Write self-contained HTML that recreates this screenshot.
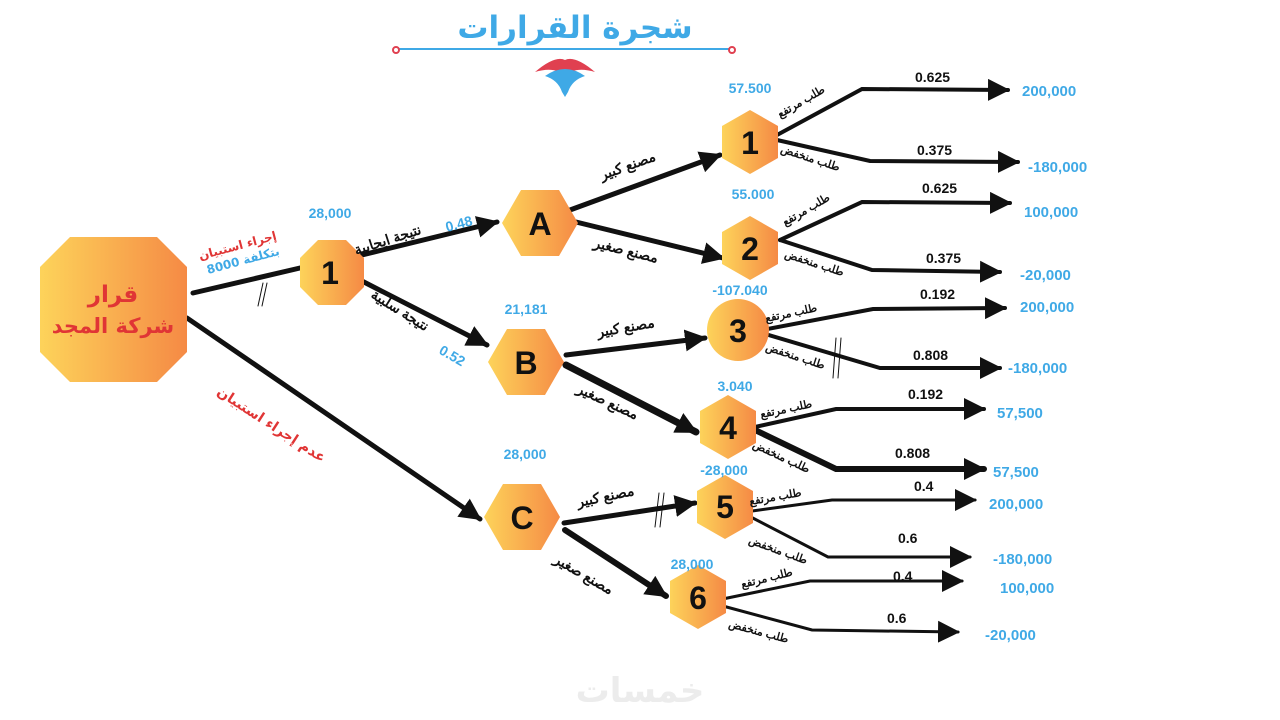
<!DOCTYPE html>
<html><head><meta charset="utf-8"><style>
html,body{margin:0;padding:0;background:#fff;}
svg{display:block;}
text{font-family:"Liberation Sans","Noto Sans CJK SC",sans-serif;}
.ar{font-family:"DejaVu Sans","Noto Sans CJK SC",sans-serif;}
.b{fill:#3fa9e6;font-weight:bold;font-size:14px;}
.k{fill:#111;font-weight:bold;font-size:14px;}
.n{fill:#111;font-weight:bold;font-size:32px;text-anchor:middle;dominant-baseline:central;}
</style></head><body>
<svg width="1280" height="720" viewBox="0 0 1280 720" xmlns="http://www.w3.org/2000/svg">
<defs>
<linearGradient id="g" x1="0" x2="1" y1="0" y2="0"><stop offset="0" stop-color="#fdd35a"/><stop offset="1" stop-color="#f58a45"/></linearGradient>
<marker id="m" markerUnits="userSpaceOnUse" markerWidth="24" markerHeight="22" refX="20" refY="11" orient="auto"><path d="M0,0 L22,11 L0,22 Z" fill="#111"/></marker>
</defs>
<text x="575" y="38" text-anchor="middle" class="ar" style="fill:#3fa9e6;font-weight:bold;font-size:31px">شجرة القرارات</text>
<line x1="398" y1="49" x2="730" y2="49" stroke="#3fa9e6" stroke-width="2"/>
<circle cx="396" cy="50" r="3" fill="none" stroke="#e04050" stroke-width="2"/>
<circle cx="732" cy="50" r="3" fill="none" stroke="#e04050" stroke-width="2"/>
<path d="M535,72 Q555,55 565,60 Q575,55 595,72 Q575,66 565,76 Q555,66 535,72Z" fill="#e04050"/>
<path d="M545,76 Q565,62 585,76 Q572,80 568,92 L565,97 L562,92 Q558,80 545,76Z" fill="#3fa9e6"/>
<g stroke="#111" fill="none" stroke-linecap="round">
<line x1="193" y1="293" x2="300" y2="268" stroke-width="5"/>
<line x1="187" y1="318" x2="480" y2="519" stroke-width="5" marker-end="url(#m)"/>
<line x1="362" y1="255" x2="497" y2="222" stroke-width="5" marker-end="url(#m)"/>
<line x1="360" y1="280" x2="487" y2="345" stroke-width="5" marker-end="url(#m)"/>
<line x1="570" y1="210" x2="720" y2="155" stroke-width="5" marker-end="url(#m)"/>
<line x1="576" y1="222" x2="723" y2="258" stroke-width="5" marker-end="url(#m)"/>
<line x1="566" y1="355" x2="705" y2="338" stroke-width="5" marker-end="url(#m)"/>
<line x1="566" y1="365" x2="696" y2="432" stroke-width="7" marker-end="url(#m)"/>
<line x1="564" y1="523" x2="695" y2="503" stroke-width="5" marker-end="url(#m)"/>
<line x1="565" y1="530" x2="666" y2="596" stroke-width="6" marker-end="url(#m)"/>
<g stroke-width="4">
<polyline points="777,135 862,89 1008,90" marker-end="url(#m)"/>
<polyline points="777,140 870,161 1018,162" marker-end="url(#m)"/>
<polyline points="780,240 862,202 1010,203" marker-end="url(#m)"/>
<polyline points="780,240 872,270 1000,272" marker-end="url(#m)"/>
<polyline points="762,330 873,309 1005,308" marker-end="url(#m)"/>
<polyline points="762,333 880,368 1000,368" marker-end="url(#m)"/>
<polyline points="755,427 836,409 984,409" marker-end="url(#m)"/>
<polyline points="755,430 836,469 984,469" stroke-width="6" marker-end="url(#m)"/>
<polyline points="745,512 832,500 975,500" stroke-width="3" marker-end="url(#m)"/>
<polyline points="745,514 828,557 970,557" stroke-width="3" marker-end="url(#m)"/>
<polyline points="708,602 810,581 962,581" stroke-width="3" marker-end="url(#m)"/>
<polyline points="708,602 812,630 958,632" stroke-width="3" marker-end="url(#m)"/>
</g>
<g stroke-width="1">
<line x1="258" y1="306" x2="263" y2="283"/><line x1="262" y1="306" x2="267" y2="283"/>
<line x1="655" y1="527" x2="659" y2="493"/><line x1="660" y1="527" x2="664" y2="493"/>
<line x1="833" y1="378" x2="836" y2="338"/><line x1="838" y1="378" x2="841" y2="338"/>
</g>
</g>
<polygon points="70,237 157,237 187,267 187,352 157,382 70,382 40,352 40,267" fill="url(#g)"/>
<text x="113" y="302" text-anchor="middle" class="ar" style="fill:#e03535;font-weight:bold;font-size:23px">قرار</text>
<text x="113" y="333" text-anchor="middle" class="ar" style="fill:#e03535;font-weight:bold;font-size:21px">شركة المجد</text>
<polygon points="318,240 346,240 364,258 364,287 346,305 318,305 300,287 300,258" fill="url(#g)"/>
<text x="330" y="273" class="n">1</text>
<polygon points="502,223 521,190 559,190 578,223 559,256 521,256" fill="url(#g)"/>
<text x="540" y="224" class="n">A</text>
<polygon points="488,362 507,329 545,329 564,362 545,395 507,395" fill="url(#g)"/>
<text x="526" y="363" class="n">B</text>
<polygon points="484,517 503,484 541,484 560,517 541,550 503,550" fill="url(#g)"/>
<text x="522" y="518" class="n">C</text>
<polygon points="750,110 778,126 778,158 750,174 722,158 722,126" fill="url(#g)"/>
<text x="750" y="143" class="n">1</text>
<polygon points="750,216 778,232 778,264 750,280 722,264 722,232" fill="url(#g)"/>
<text x="750" y="249" class="n">2</text>
<circle cx="738" cy="330" r="31" fill="url(#g)"/>
<text x="738" y="331" class="n">3</text>
<polygon points="728,395 756,411 756,443 728,459 700,443 700,411" fill="url(#g)"/>
<text x="728" y="428" class="n">4</text>
<polygon points="725,475 753,491 753,523 725,539 697,523 697,491" fill="url(#g)"/>
<text x="725" y="507" class="n">5</text>
<polygon points="698,565 726,581 726,613 698,629 670,613 670,581" fill="url(#g)"/>
<text x="698" y="598" class="n">6</text>
<text x="330" y="218" text-anchor="middle" class="b">28,000</text>
<text x="526" y="314" text-anchor="middle" class="b">21,181</text>
<text x="525" y="459" text-anchor="middle" class="b">28,000</text>
<text x="750" y="93" text-anchor="middle" class="b">57.500</text>
<text x="753" y="199" text-anchor="middle" class="b">55.000</text>
<text x="740" y="295" text-anchor="middle" class="b">-107.040</text>
<text x="735" y="391" text-anchor="middle" class="b">3.040</text>
<text x="724" y="475" text-anchor="middle" class="b">-28,000</text>
<text x="692" y="569" text-anchor="middle" class="b">28,000</text>
<g class="b" style="font-size:15px">
<text x="1022" y="96">200,000</text><text x="1028" y="172">-180,000</text>
<text x="1024" y="217">100,000</text><text x="1020" y="280">-20,000</text>
<text x="1020" y="312">200,000</text><text x="1008" y="373">-180,000</text>
<text x="997" y="418">57,500</text><text x="993" y="477">57,500</text>
<text x="989" y="509">200,000</text><text x="993" y="564">-180,000</text>
<text x="1000" y="593">100,000</text><text x="985" y="640">-20,000</text>
</g>
<g class="k">
<text x="915" y="82">0.625</text><text x="917" y="155">0.375</text>
<text x="922" y="193">0.625</text><text x="926" y="263">0.375</text>
<text x="920" y="299">0.192</text><text x="913" y="360">0.808</text>
<text x="908" y="399">0.192</text><text x="895" y="458">0.808</text>
<text x="914" y="491">0.4</text><text x="898" y="543">0.6</text>
<text x="893" y="581">0.4</text><text x="887" y="623">0.6</text>
</g>
<g class="ar" style="fill:#111;font-size:11px;font-weight:bold">
<text transform="translate(780,118) rotate(-30)">طلب مرتفع</text>
<text transform="translate(780,152) rotate(18)">طلب منخفض</text>
<text transform="translate(785,226) rotate(-30)">طلب مرتفع</text>
<text transform="translate(784,257) rotate(18)">طلب منخفض</text>
<text transform="translate(766,322) rotate(-12)">طلب مرتفع</text>
<text transform="translate(765,350) rotate(18)">طلب منخفض</text>
<text transform="translate(761,418) rotate(-12)">طلب مرتفع</text>
<text transform="translate(752,447) rotate(25)">طلب منخفض</text>
<text transform="translate(750,505) rotate(-10)">طلب مرتفع</text>
<text transform="translate(748,543) rotate(20)">طلب منخفض</text>
<text transform="translate(742,588) rotate(-14)">طلب مرتفع</text>
<text transform="translate(728,627) rotate(15)">طلب منخفض</text>
</g>
<g class="ar" style="fill:#111;font-size:14px;font-weight:bold">
<text transform="translate(602,180) rotate(-20)">مصنع كبير</text>
<text transform="translate(593,247) rotate(14)">مصنع صغير</text>
<text transform="translate(598,337) rotate(-10)">مصنع كبير</text>
<text transform="translate(576,392) rotate(25)">مصنع صغير</text>
<text transform="translate(578,507) rotate(-12)">مصنع كبير</text>
<text transform="translate(553,562) rotate(30)">مصنع صغير</text>
<text transform="translate(356,255) rotate(-18)">نتيجة ايجابية</text>
<text transform="translate(370,297) rotate(32)">نتيجة سلبية</text>
</g>
<text transform="translate(447,232) rotate(-15)" class="b">0.48</text>
<text transform="translate(438,353) rotate(30)" class="b">0.52</text>
<text transform="translate(200,260) rotate(-15)" class="ar" style="fill:#e03535;font-size:12px;font-weight:bold">إجراء استبيان</text>
<text transform="translate(208,274) rotate(-15)" class="ar" style="fill:#3fa9e6;font-size:12px;font-weight:bold">8000 بتكلفة</text>
<text transform="translate(216,394) rotate(33)" class="ar" style="fill:#e03535;font-size:14px;font-weight:bold">عدم إجراء استبيان</text>
<text x="640" y="702" text-anchor="middle" class="ar" style="fill:#ececec;font-size:34px;font-weight:bold">خمسات</text>
</svg>
</body></html>
